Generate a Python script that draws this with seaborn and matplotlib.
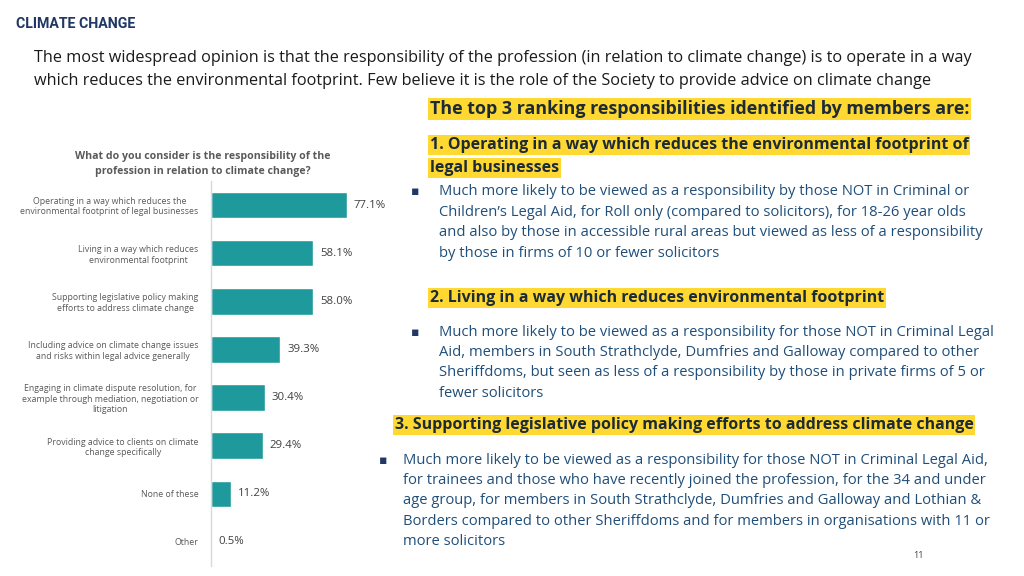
import matplotlib
matplotlib.use("Agg")
import matplotlib.pyplot as plt
import seaborn as sns
import pandas as pd

# chart data
categories = [
    "Operating in a way which reduces the\nenvironmental footprint of legal businesses",
    "Living in a way which reduces\nenvironmental footprint",
    "Supporting legislative policy making\nefforts to address climate change",
    "Including advice on climate change issues\nand risks within legal advice generally",
    "Engaging in climate dispute resolution, for\nexample through mediation, negotiation or\nlitigation",
    "Providing advice to clients on climate\nchange specifically",
    "None of these",
    "Other",
]
values = [77.1, 58.1, 58.0, 39.3, 30.4, 29.4, 11.2, 0.5]

title = "CLIMATE CHANGE"
intro = [
    "The most widespread opinion is that the responsibility of the profession (in relation to climate change) is to operate in a way",
    "which reduces the environmental footprint. Few believe it is the role of the Society to provide advice on climate change",
]
chart_title = "What do you consider is the responsibility of the\nprofession in relation to climate change?"
top_heading = "The top 3 ranking responsibilities identified by members are:"
head1 = ["1. Operating in a way which reduces the environmental footprint of", "legal businesses"]
body1 = [
    "Much more likely to be viewed as a responsibility by those NOT in Criminal or",
    "Children\u2019s Legal Aid, for Roll only (compared to solicitors), for 18-26 year olds",
    "and also by those in accessible rural areas but viewed as less of a responsibility",
    "by those in firms of 10 or fewer solicitors",
]
head2 = "2. Living in a way which reduces environmental footprint"
body2 = [
    "Much more likely to be viewed as a responsibility for those NOT in Criminal Legal",
    "Aid, members in South Strathclyde, Dumfries and Galloway compared to other",
    "Sheriffdoms, but seen as less of a responsibility by those in private firms of 5 or",
    "fewer solicitors",
]
head3 = "3. Supporting legislative policy making efforts to address climate change"
body3 = [
    "Much more likely to be viewed as a responsibility for those NOT in Criminal Legal Aid,",
    "for trainees and those who have recently joined the profession, for the 34 and under",
    "age group, for members in South Strathclyde, Dumfries and Galloway and Lothian &",
    "Borders compared to other Sheriffdoms and for members in organisations with 11 or",
    "more solicitors",
]

sns.set_style("white")
plt.rcParams["font.family"] = ["Open Sans", "DejaVu Sans"]

W, H = 1024, 576
fig = plt.figure(figsize=(W / 100, H / 100), dpi=100)
fig.patch.set_facecolor("white")


def fx(x):
    return x / W


def fy(y):
    return 1 - y / H


teal = "#1f9a9c"
navy = "#1f3864"
blue = "#1f4e79"
dark = "#1c2b36"
yellow = "#ffd932"

# bar chart
ax = fig.add_axes([fx(211), fy(566), 176 / W, (566 - 181) / H])
df = pd.DataFrame({"category": categories, "value": values})
sns.barplot(data=df, x="value", y="category", orient="h", color=teal,
            width=0.55, saturation=1, ax=ax)
ax.set_xlim(0, 100)
ax.set_xlabel("")
ax.set_ylabel("")
ax.set_xticks([])
for s in ["top", "right", "bottom"]:
    ax.spines[s].set_visible(False)
ax.spines["left"].set_color("#d9d9d9")
ax.spines["left"].set_linewidth(1)
ax.tick_params(axis="y", length=0, pad=9, labelsize=6.3, labelcolor="#595959")
for lab in ax.get_yticklabels():
    lab.set_horizontalalignment("right")
    lab.set_multialignment("center")
ax.bar_label(ax.containers[0], labels=[f"{v:.1f}%" for v in values],
             padding=5, fontsize=8.2, color="#404040")

fig.text(fx(203), fy(164), chart_title, ha="center", va="center",
         fontsize=7.6, fontweight="bold", color="#595959", linespacing=1.45)

# header texts
fig.text(fx(16), fy(24), title, ha="left", va="center", fontsize=10.2,
         color=navy, fontweight="bold", family=["Roboto", "DejaVu Sans"])
for i, line in enumerate(intro):
    fig.text(fx(34), fy(58 + i * 23), line, ha="left", va="center",
             fontsize=11.7, color="#1a1a1a")

hl = dict(facecolor=yellow, edgecolor="none", boxstyle="square,pad=0.1")
fig.text(fx(430), fy(109), top_heading, ha="left", va="center", fontsize=12.9,
         fontweight="bold", color=dark, bbox=hl)
for i, line in enumerate(head1):
    fig.text(fx(430), fy(145 + i * 23), line, ha="left", va="center",
             fontsize=11.5, fontweight="bold", color=dark, bbox=hl)
fig.text(fx(430), fy(298), head2, ha="left", va="center", fontsize=11.5,
         fontweight="bold", color=dark, bbox=hl)
fig.text(fx(395), fy(425), head3, ha="left", va="center", fontsize=11.5,
         fontweight="bold", color=dark, bbox=hl)


def bullets(lines, x_b, x_t, y0, step=20.4):
    fig.text(fx(x_b), fy(y0), "\u25aa", ha="left", va="center",
             fontsize=9, color=navy, family=["DejaVu Sans"])
    for i, line in enumerate(lines):
        fig.text(fx(x_t), fy(y0 + i * step), line, ha="left", va="center",
                 fontsize=10.6, color=blue)


bullets(body1, 411, 439, 192)
bullets(body2, 411, 439, 332)
bullets(body3, 379, 403, 460)

fig.text(fx(918), fy(556), "11", ha="center", va="center", fontsize=6.5,
         color="#404040")

fig.savefig("out.png", dpi=100)
